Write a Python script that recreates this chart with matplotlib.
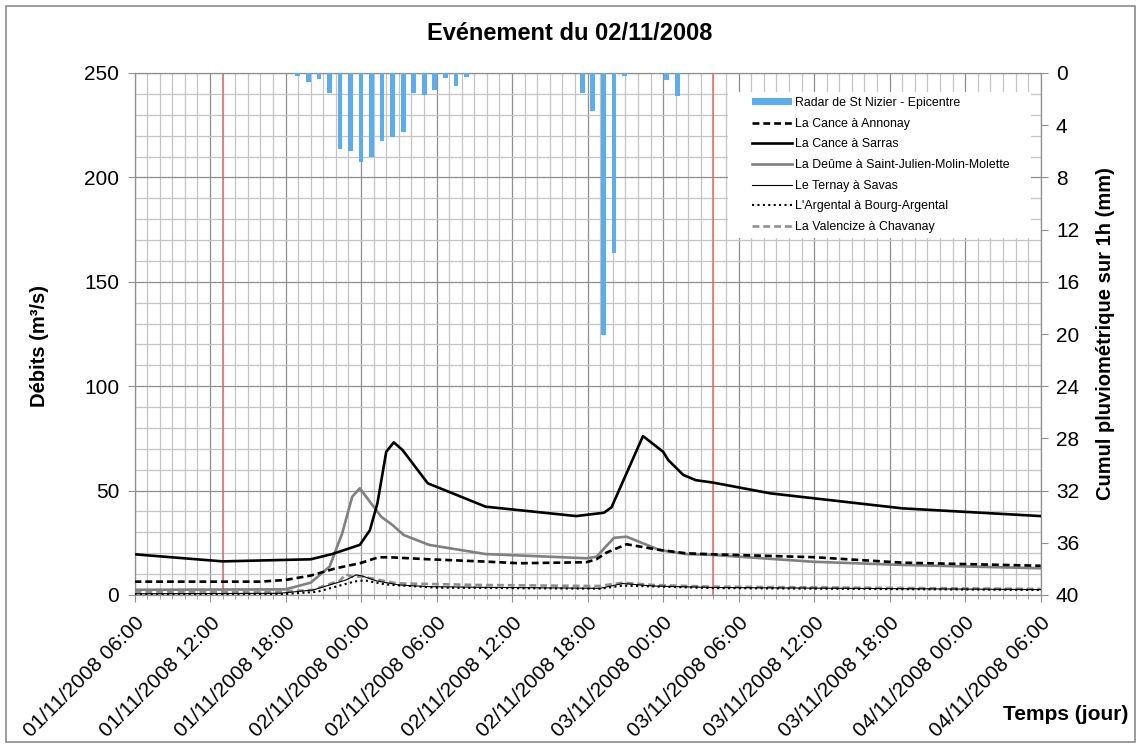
import numpy as np
import matplotlib
matplotlib.use("Agg")
import matplotlib.pyplot as plt
from matplotlib.patches import Rectangle, Patch
from matplotlib.lines import Line2D

plt.rcParams['font.family'] = ['Liberation Sans', 'DejaVu Sans']

# --- Discharge series: hours since 01/11/2008 06:00, flow in m3/s ---
sarras_h = [0, 7, 14, 15.7, 17.9, 18.7, 19.3, 20.0, 20.6, 21.3, 23.3, 27.9, 35.1,
            37.3, 37.9, 40.4, 42.0, 42.4, 43.6, 44.6, 46.0, 50.5, 61.0, 72]
sarras_q = [19.5, 16.1, 17.1, 19.6, 24.0, 31.0, 43.9, 68.6, 73.1, 69.4, 53.5, 42.3, 37.8,
            39.4, 42.0, 76.1, 68.6, 64.7, 57.5, 55.0, 53.8, 48.7, 41.5, 37.8]

annonay_h = [0, 10, 12, 14, 16, 17.9, 19.4, 20.5, 23.4, 27.9, 30.6, 35.9, 36.7,
             37.5, 39.1, 41.7, 43.8, 45.9, 54, 61, 72]
annonay_q = [6.4, 6.4, 7.2, 9.3, 12.8, 15.2, 18.1, 18.0, 17.1, 16.0, 15.2, 15.7, 17.1,
             20.3, 24.3, 21.6, 20.0, 19.5, 18.1, 15.5, 14.0]

deume_h = [0, 12, 14, 15.5, 16.5, 17.3, 17.9, 19.6, 20.5, 21.4, 23.4, 27.9, 35.9,
           36.7, 37.5, 38.1, 39.1, 41.7, 43.8, 45.9, 54, 61, 72]
deume_q = [2.5, 2.7, 5.9, 13.6, 29.5, 47.1, 51.1, 37.5, 33.5, 28.7, 24.0, 19.6, 17.6,
           18.3, 23.5, 27.4, 27.9, 21.6, 19.6, 19.2, 15.9, 14.4, 12.8]

ternay_h = [0, 11.5, 14.2, 16.8, 17.6, 18.1, 19.2, 21.0, 23.4, 27.4, 37.0, 38.8, 41.2, 46.0, 72]
ternay_q = [0.6, 0.8, 2.4, 7.2, 9.6, 9.1, 6.8, 4.8, 4.0, 3.7, 3.2, 5.5, 4.3, 3.6, 2.6]

argental_h = [0, 12, 14.5, 17.5, 18.3, 20.0, 24.0, 37.0, 38.8, 46.0, 72]
argental_q = [0.4, 0.5, 1.5, 6.5, 7.0, 5.0, 3.5, 3.0, 4.5, 3.3, 2.4]

valencize_h = [0, 11.5, 14.2, 15.0, 16.3, 16.8, 17.3, 18.1, 20.8, 27.4, 36.9, 38.8, 41.2, 45.9, 72]
valencize_q = [1.3, 1.6, 2.4, 4.3, 6.8, 9.9, 8.8, 8.8, 5.6, 4.8, 4.3, 5.9, 4.8, 4.0, 2.9]

# --- Hourly radar rainfall (mm), on an 86-slot category axis ---
rain_slots = 86
rain_idx = [15, 16, 17, 18, 19, 20, 21, 22, 23, 24, 25, 26, 27, 28, 29, 30, 31,
            42, 43, 44, 45, 46, 49, 50, 51]
rain_mm = [0.2, 0.7, 0.45, 1.55, 5.8, 6.0, 6.8, 6.4, 5.2, 4.9, 4.5, 1.5, 1.65, 1.3, 0.35, 1.0, 0.3,
           1.5, 2.9, 20.1, 13.8, 0.2, 0.1, 0.55, 1.75]

# Event window markers (hours since start)
event_marks = [7, 46]

tick_labels = ["01/11/2008 06:00", "01/11/2008 12:00", "01/11/2008 18:00",
               "02/11/2008 00:00", "02/11/2008 06:00", "02/11/2008 12:00",
               "02/11/2008 18:00", "03/11/2008 00:00", "03/11/2008 06:00",
               "03/11/2008 12:00", "03/11/2008 18:00", "04/11/2008 00:00",
               "04/11/2008 06:00"]

W, H = 1141, 746
fig = plt.figure(figsize=(W / 100, H / 100), dpi=100)
fig.patch.set_facecolor('white')

x0, x1, y0, y1 = 134.5, 1040.7, 73, 595
rect = [x0 / W, 1 - y1 / H, (x1 - x0) / W, (y1 - y0) / H]

ax = fig.add_axes(rect)
ax.set_xlim(0, 72)
ax.set_ylim(0, 250)

grid_minor = '#c4c4c4'
grid_major = '#8f8f8f'
ax.set_xticks(np.arange(0, 73, 6))
ax.set_xticks(np.arange(0, 73, 1), minor=True)
ax.set_yticks(np.arange(0, 251, 50))
ax.set_yticks(np.arange(0, 251, 10), minor=True)
ax.grid(which='minor', color=grid_minor, lw=0.9, zorder=0)
ax.grid(which='major', color=grid_major, lw=0.9, zorder=0)
ax.set_axisbelow(True)
for s in ax.spines.values():
    s.set_color(grid_major)
    s.set_linewidth(0.9)

ax.set_xticklabels(tick_labels, rotation=45, ha='right', va='top',
                   rotation_mode='anchor', fontsize=15)
ax.tick_params(axis='x', which='major', length=5, color=grid_major, pad=8)
ax.tick_params(axis='x', which='minor', length=3, color=grid_major)
ax.tick_params(axis='y', which='major', length=5, color=grid_major, labelsize=15, pad=6)
ax.tick_params(axis='y', which='minor', length=0)

for h in event_marks:
    ax.axvline(h, color='#e06a6a', lw=1.1, zorder=1)

ax.plot(sarras_h, sarras_q, color='black', lw=1.9, zorder=5)
ax.plot(annonay_h, annonay_q, color='black', lw=1.9, dashes=(2.6, 1.5), zorder=5)
ax.plot(deume_h, deume_q, color='#808080', lw=1.9, zorder=4)
ax.plot(ternay_h, ternay_q, color='black', lw=0.8, zorder=5)
ax.plot(argental_h, argental_q, color='black', lw=1.5, dashes=(1, 1.6), zorder=5)
ax.plot(valencize_h, valencize_q, color='#909090', lw=1.9, dashes=(2.6, 1.5), zorder=4)

ax.set_ylabel('Débits (m³/s)', fontsize=14.5, fontweight='bold')
ax.yaxis.set_label_coords(49 / W, 1 - 346 / H, transform=fig.transFigure)

# Rainfall bars on a secondary, inverted axis
axr = fig.add_axes(rect)
axr.patch.set_visible(False)
for s in axr.spines.values():
    s.set_visible(False)
axr.set_xlim(-0.5, rain_slots - 0.5)
axr.set_ylim(40, 0)
axr.bar(rain_idx, rain_mm, width=0.45, color='#5DADEC', zorder=2)
axr.xaxis.set_visible(False)
axr.yaxis.tick_right()
axr.yaxis.set_label_position('right')
axr.set_yticks(np.arange(0, 41, 4))
axr.tick_params(axis='y', length=5, color=grid_major, labelsize=15, pad=6)
axr.set_ylabel('Cumul pluviométrique sur 1h (mm)', fontsize=14.5, fontweight='bold',
               labelpad=12)

# Legend sits on a white panel that masks the grid behind it
axr.add_artist(Rectangle((728 / W, 1 - 238 / H), (1031 - 728) / W, (238 - 92) / H,
                         transform=fig.transFigure, facecolor='white',
                         edgecolor='none', zorder=9, clip_on=False))

handles = [
    Patch(facecolor='#5DADEC', edgecolor='none'),
    Line2D([], [], color='black', lw=1.9, dashes=(2.6, 1.5)),
    Line2D([], [], color='black', lw=1.9),
    Line2D([], [], color='#808080', lw=1.9),
    Line2D([], [], color='black', lw=0.8),
    Line2D([], [], color='black', lw=1.5, dashes=(1, 1.6)),
    Line2D([], [], color='#909090', lw=1.9, dashes=(2.6, 1.5)),
]
labels = ["Radar de St Nizier - Epicentre", "La Cance à Annonay", "La Cance à Sarras",
          "La Deûme à Saint-Julien-Molin-Molette", "Le Ternay à Savas",
          "L'Argental à Bourg-Argental", "La Valencize à Chavanay"]
leg = axr.legend(handles, labels, loc='upper left',
                 bbox_to_anchor=(752 / W, 1 - 97 / H), bbox_transform=fig.transFigure,
                 borderaxespad=0, borderpad=0, fontsize=8.9, handlelength=3.2,
                 handleheight=0.55, handletextpad=0.3, labelspacing=0.70,
                 frameon=False)
leg.set_zorder(10)

fig.text(570 / W, 1 - 33 / H, 'Evénement du 02/11/2008', ha='center', va='center',
         fontsize=17, fontweight='bold')
fig.text(1128 / W, 1 - 715 / H, 'Temps (jour)', ha='right', va='center',
         fontsize=15, fontweight='bold')

fig.patches.append(Rectangle((6 / W, 1 - 742 / H), (1135 - 6) / W, (742 - 6) / H,
                             transform=fig.transFigure, fill=False,
                             edgecolor='#8a8a8a', lw=1.2))

fig.savefig('out.png', dpi=100, facecolor='white')
